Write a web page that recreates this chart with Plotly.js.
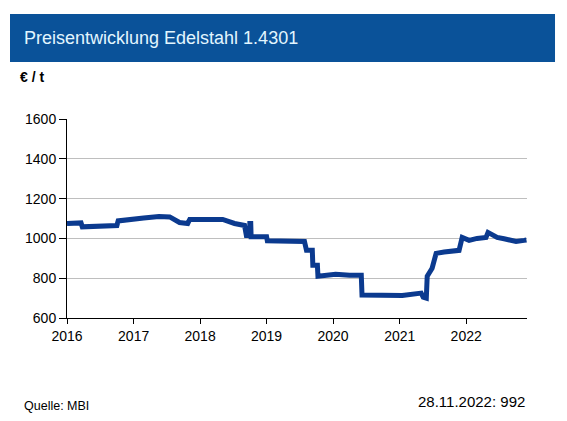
<!DOCTYPE html>
<html><head><meta charset="utf-8">
<script src="https://cdn.plot.ly/plotly-3.0.1.min.js"></script>
<style>html,body{margin:0;padding:0;background:#fff}#chart{width:567px;height:421px}</style>
</head><body><div id="chart"></div>
<script>
const dates = ["2016-01-01","2016-03-18","2016-03-25","2016-06-02","2016-06-15","2016-10-01","2016-10-08","2017-01-01","2017-02-25","2017-05-20","2017-07-18","2017-09-10","2017-10-25","2017-11-05","2018-05-05","2018-07-09","2018-09-02","2018-09-12","2018-09-30","2018-10-01","2018-10-06","2018-10-08","2019-01-01","2019-01-05","2019-07-28","2019-08-08","2019-09-09","2019-09-12","2019-10-07","2019-10-10","2020-01-15","2020-04-01","2020-06-04","2020-06-08","2020-10-01","2021-01-15","2021-04-29","2021-05-10","2021-05-27","2021-06-01","2021-06-28","2021-07-20","2021-09-02","2021-11-23","2021-12-10","2022-01-17","2022-03-02","2022-04-20","2022-05-01","2022-05-23","2022-06-20","2022-07-28","2022-09-10","2022-10-02","2022-11-15","2022-11-28"];
const prices = [1075,1078,1058,1060,1065,1065,1088,1100,1102,1110,1108,1080,1075,1095,1095,1075,1065,1015,1015,1075,1075,1008,1008,988,985,940,940,865,865,810,820,815,815,715,712,713,725,705,700,810,850,925,932,940,1005,990,1000,1005,1030,1020,1005,998,990,985,990,992];
const yTicks = [600,800,1000,1200,1400,1600];

const font = "Liberation Sans, Arial, sans-serif";
const trace = {x: dates, y: prices, type: "scatter", mode: "lines",
  line: {color: "#0B3A8F", width: 5, shape: "linear"}, hoverinfo: "skip"};

const layout = {
  width: 567, height: 421,
  margin: {l: 67, r: 40, t: 119, b: 103},
  paper_bgcolor: "#fff", plot_bgcolor: "#fff",
  showlegend: false,
  font: {family: font, size: 14, color: "#000"},
  xaxis: {type: "date", range: ["2016-01-01", "2022-12-01"],
    tickformat: "%Y", dtick: "M12", tick0: "2016-01-01",
    showgrid: false, zeroline: false, showline: true, linecolor: "#000", linewidth: 1,
    ticks: "outside", ticklen: 5, tickcolor: "#000",
    tickfont: {family: font, size: 14, color: "#000"}},
  yaxis: {range: [600, 1600], tickvals: yTicks, ticktext: yTicks.map(String),
    showgrid: true, gridcolor: "#BEBEBE", gridwidth: 1, zeroline: false,
    showline: true, linecolor: "#000", linewidth: 1,
    ticks: "outside", ticklen: 7, tickcolor: "#000",
    tickfont: {family: font, size: 14, color: "#000"}},
  shapes: [{type: "rect", xref: "paper", yref: "paper",
    x0: -0.1239, x1: 1.0609, y0: 1.2864, y1: 1.5276,
    fillcolor: "#0A5299", line: {width: 0}, layer: "below"}],
  annotations: [
    {text: "Preisentwicklung Edelstahl 1.4301", xref: "paper", yref: "paper",
     x: -0.0978, y: 1.407, xanchor: "left", yanchor: "middle", showarrow: false,
     font: {family: font, size: 18, color: "#E2F6FF"}},
    {text: "<b>€ / t</b>", xref: "paper", yref: "paper",
     x: -0.1065, y: 1.211, xanchor: "left", yanchor: "middle", showarrow: false,
     font: {family: font, size: 14, color: "#000"}},
    {text: "Quelle: MBI", xref: "paper", yref: "paper",
     x: -0.0978, y: -0.442, xanchor: "left", yanchor: "middle", showarrow: false,
     font: {family: font, size: 12.5, color: "#000"}},
    {text: "28.11.2022: 992", xref: "paper", yref: "paper",
     x: 1.0, y: -0.422, xanchor: "right", yanchor: "middle", showarrow: false,
     font: {family: font, size: 15, color: "#000"}}
  ]
};
Plotly.newPlot("chart", [trace], layout, {staticPlot: true, displayModeBar: false});
</script></body></html>
